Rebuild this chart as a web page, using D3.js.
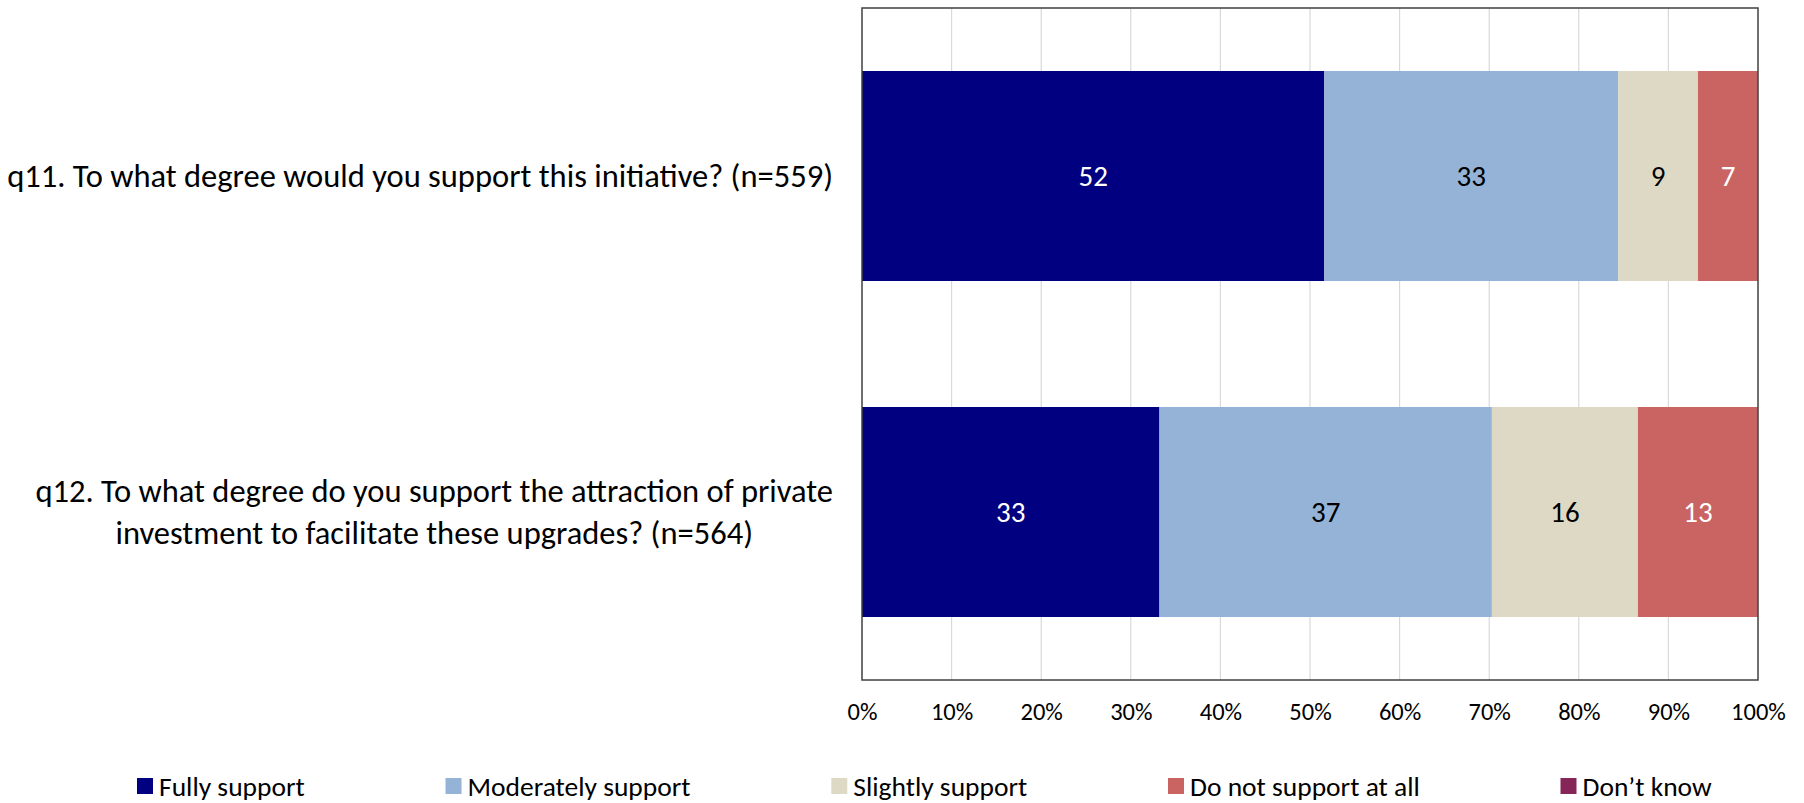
<!DOCTYPE html>
<html>
<head>
<meta charset="utf-8">
<script src="https://cdn.jsdelivr.net/npm/d3@7"></script>
<style>
  html, body { margin: 0; padding: 0; background: #fff; }
  svg { display: block; }
  text { font-family: Carlito, "Liberation Sans Narrow", Lato, "DejaVu Sans", sans-serif; }
</style>
</head>
<body>
<script>
const categories = [
  ["q11. To what degree would you support this initiative? (n=559)"],
  ["q12. To what degree do you support the attraction of private", "investment to facilitate these upgrades? (n=564)"]
];
const categoryKeys = ["q11", "q12"];
const seriesNames = ["Fully support", "Moderately support", "Slightly support", "Do not support at all", "Don\u2019t know"];
const fullySupport = [51.6, 33.2];
const moderatelySupport = [32.8, 37.1];
const slightlySupport = [8.9, 16.3];
const doNotSupport = [6.7, 13.4];
const dontKnow = [0, 0];
const seriesColors = ["#000080", "#95B3D7", "#DDD9C4", "#C96462", "#862558"];
const labelColors = ["#ffffff", "#000000", "#000000", "#ffffff", "#ffffff"];
const tickValues = [0, 10, 20, 30, 40, 50, 60, 70, 80, 90, 100];

(function() {
const W = 1804, H = 803;
const svg = d3.select("body").append("svg").attr("width", W).attr("height", H);

const pLeft = 862, pRight = 1758, pTop = 8, pBottom = 680;
const x = d3.scaleLinear().domain([0, 100]).range([pLeft, pRight]);
const y = d3.scaleBand().domain(categoryKeys).range([pTop, pBottom]).paddingInner(0.375).paddingOuter(0.1875);

// gridlines
svg.append("g").selectAll("line").data(tickValues.slice(1, -1)).join("line")
  .attr("x1", d => x(d)).attr("x2", d => x(d))
  .attr("y1", pTop).attr("y2", pBottom)
  .attr("stroke", "#D9D9D9").attr("stroke-width", 1.2);

const seriesData = [fullySupport, moderatelySupport, slightlySupport, doNotSupport, dontKnow];
const rows = categoryKeys.map((k, i) => {
  const o = { key: k };
  seriesNames.forEach((s, j) => o[s] = seriesData[j][i]);
  return o;
});
const stack = d3.stack().keys(seriesNames)(rows);

const g = svg.append("g");
stack.forEach((layer, j) => {
  g.append("g").selectAll("rect").data(layer).join("rect")
    .attr("x", d => x(d[0]))
    .attr("width", d => x(d[1]) - x(d[0]))
    .attr("y", d => y(d.data.key))
    .attr("height", y.bandwidth())
    .attr("fill", seriesColors[j]);
  g.append("g").selectAll("text").data(layer.filter(d => d[1] - d[0] > 0)).join("text")
    .attr("x", d => (x(d[0]) + x(d[1])) / 2)
    .attr("y", d => y(d.data.key) + y.bandwidth() / 2)
    .attr("text-anchor", "middle").attr("dominant-baseline", "central")
    .attr("font-size", 29).attr("fill", labelColors[j])
    .text(d => Math.round(d[1] - d[0]));
});

// plot border
svg.append("rect").attr("x", pLeft).attr("y", pTop).attr("width", pRight - pLeft).attr("height", pBottom - pTop)
  .attr("fill", "none").attr("stroke", "#404040").attr("stroke-width", 1.5);

// x axis
const xAxis = d3.axisBottom(x).tickValues(tickValues).tickSize(0).tickFormat(d => d + "%");
const ax = svg.append("g").attr("transform", `translate(0,${pBottom})`).call(xAxis);
ax.select(".domain").remove();
ax.selectAll("text").attr("font-size", 24.5).attr("fill", "#000").attr("dy", null).attr("y", 32).attr("dominant-baseline", "central");

// category labels
const labelRight = 833;
categoryKeys.forEach((k, i) => {
  const lines = categories[i];
  const cy = y(k) + y.bandwidth() / 2;
  const lh = 42;
  const tg = svg.append("g");
  const texts = tg.selectAll("text").data(lines).join("text")
    .attr("font-size", 32.5).attr("fill", "#000")
    .attr("text-anchor", "middle").attr("dominant-baseline", "central")
    .attr("y", (d, li) => cy + (li - (lines.length - 1) / 2) * lh)
    .text(d => d);
  let maxW = 0;
  texts.each(function() { maxW = Math.max(maxW, this.getComputedTextLength()); });
  texts.attr("x", labelRight - maxW / 2);
});

// legend
const legY = 786, sw = 16, legStart = 137, legEnd = 1712;
const lg = svg.append("g");
const items = lg.selectAll("g").data(seriesNames).join("g");
items.append("rect").attr("width", sw).attr("height", sw).attr("y", legY - sw / 2)
  .attr("fill", (d, i) => seriesColors[i]);
items.append("text").attr("x", sw + 6).attr("y", legY).attr("dominant-baseline", "central")
  .attr("font-size", 27.5).attr("fill", "#000").text(d => d);
const widths = [];
items.each(function() { widths.push(this.getBBox().width); });
const gap = (legEnd - legStart - d3.sum(widths)) / (widths.length - 1);
let cx = legStart;
items.attr("transform", (d, i) => { const t = `translate(${cx},0)`; cx += widths[i] + gap; return t; });
})();
</script>
</body>
</html>
